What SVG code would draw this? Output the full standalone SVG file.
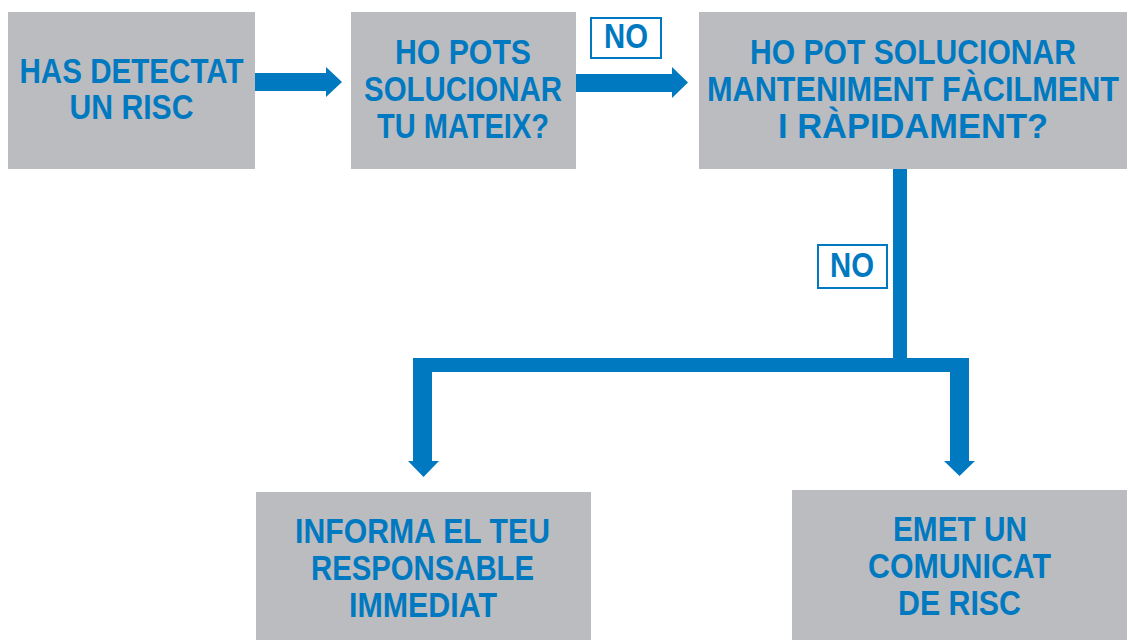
<svg xmlns="http://www.w3.org/2000/svg" width="1133" height="640" viewBox="0 0 1133 640">
<style>
.box{fill:#bbbcc0}
.t{font-family:"Liberation Sans Narrow","Liberation Sans",Arial,sans-serif;font-weight:bold;font-size:35px;fill:#0079c1;text-anchor:middle}
.lbl{fill:#fff;stroke:#0079c1;stroke-width:2}
.arr{fill:#0079c1}
</style>
<rect width="1133" height="640" fill="#fff"/>
<g id="connectors">
<polygon class="arr" points="255,73 326,73 326,67 342,82 326,97 326,91 255,91"/>
<polygon class="arr" points="576,74 672,74 672,67 688,82.5 672,98 672,92 576,92"/>
<rect class="arr" x="893" y="169" width="14" height="191"/>
<polygon class="arr" points="413,358 969,358 969,461 975,461 959.5,476 944,461 950,461 950,372 432,372 432,461 439,461 423.5,477 408,461 413,461"/>
<g id="label-no-1">
<rect class="lbl" x="591" y="18" width="70" height="40"/>
<text class="t" x="626" y="48" textLength="44" lengthAdjust="spacingAndGlyphs">NO</text>
</g>
<g id="label-no-2">
<rect class="lbl" x="818" y="245" width="69" height="43"/>
<text class="t" x="852" y="277" textLength="44" lengthAdjust="spacingAndGlyphs">NO</text>
</g>
</g>
<g id="node-detectat">
<rect class="box" x="8" y="12" width="247" height="157"/>
<text class="t" x="131.5" y="83" textLength="224" lengthAdjust="spacingAndGlyphs">HAS DETECTAT</text>
<text class="t" x="131.5" y="119" textLength="124" lengthAdjust="spacingAndGlyphs">UN RISC</text>
</g>
<g id="node-tu-mateix">
<rect class="box" x="351" y="12" width="225" height="157"/>
<text class="t" x="463" y="64" textLength="136" lengthAdjust="spacingAndGlyphs">HO POTS</text>
<text class="t" x="463" y="101" textLength="198" lengthAdjust="spacingAndGlyphs">SOLUCIONAR</text>
<text class="t" x="463" y="138" textLength="172" lengthAdjust="spacingAndGlyphs">TU MATEIX?</text>
</g>
<g id="node-manteniment">
<rect class="box" x="699" y="12" width="428" height="157"/>
<text class="t" x="913" y="64" textLength="326" lengthAdjust="spacingAndGlyphs">HO POT SOLUCIONAR</text>
<text class="t" x="913" y="101" textLength="412" lengthAdjust="spacingAndGlyphs">MANTENIMENT FÀCILMENT</text>
<text class="t" x="913" y="138" textLength="270" lengthAdjust="spacingAndGlyphs">I RÀPIDAMENT?</text>
</g>
<g id="node-responsable">
<rect class="box" x="256" y="492" width="335" height="148"/>
<text class="t" x="422.5" y="543" textLength="255" lengthAdjust="spacingAndGlyphs">INFORMA EL TEU</text>
<text class="t" x="422.5" y="580" textLength="223" lengthAdjust="spacingAndGlyphs">RESPONSABLE</text>
<text class="t" x="423" y="617" textLength="148" lengthAdjust="spacingAndGlyphs">IMMEDIAT</text>
</g>
<g id="node-comunicat">
<rect class="box" x="792" y="490" width="335" height="150"/>
<text class="t" x="960" y="541" textLength="134" lengthAdjust="spacingAndGlyphs">EMET UN</text>
<text class="t" x="959.5" y="578" textLength="183" lengthAdjust="spacingAndGlyphs">COMUNICAT</text>
<text class="t" x="959.5" y="615" textLength="123" lengthAdjust="spacingAndGlyphs">DE RISC</text>
</g>
</svg>
